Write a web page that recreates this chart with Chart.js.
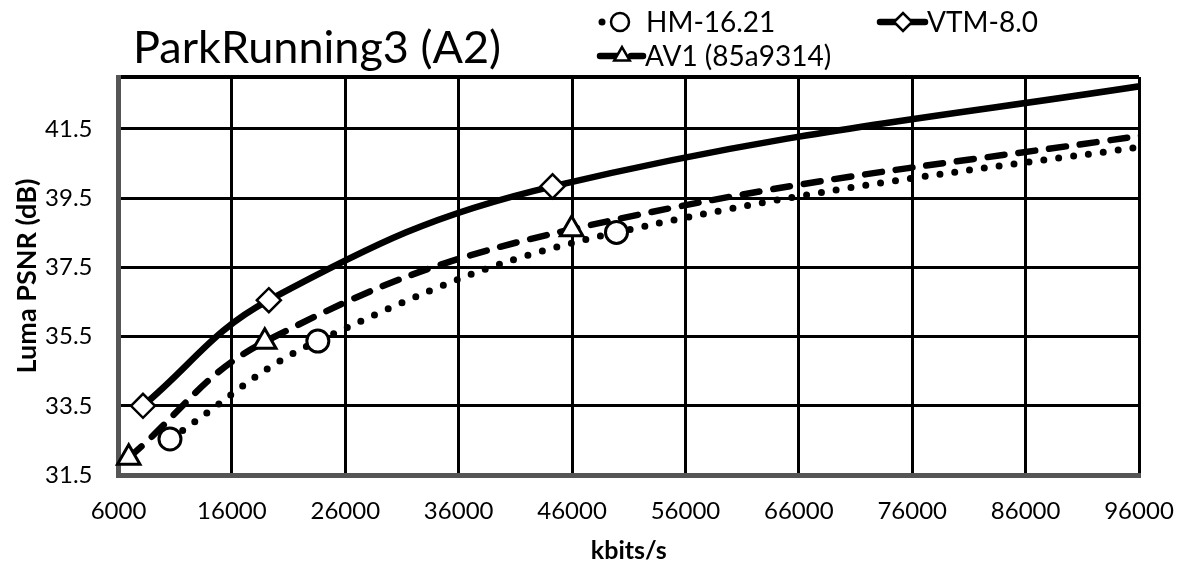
<!DOCTYPE html>
<html>
<head>
<meta charset="utf-8">
<script src="https://cdn.jsdelivr.net/npm/chart.js@4/dist/chart.umd.min.js"></script>
<style>
  html, body { margin: 0; padding: 0; background: #ffffff; }
  canvas { display: block; }
</style>
</head>
<body>
<canvas id="rd" width="1179" height="567"></canvas>
<script>
// Rate–distortion points (bitrate in kbit/s, luma PSNR in dB)
const hmRate  = [10540, 23580, 49920, 110000];
const hmPsnr  = [32.54, 35.37, 38.51, 41.65];
const vtmRate = [8160, 19260, 44280, 106000];
const vtmPsnr = [33.50, 36.55, 39.84, 43.25];
const av1Rate = [6900, 18900, 45960, 106000];
const av1Psnr = [32.00, 35.35, 38.60, 41.80];

// Axis ticks
const xTicks = [6000, 16000, 26000, 36000, 46000, 56000, 66000, 76000, 86000, 96000];
const yTicks = [31.5, 33.5, 35.5, 37.5, 39.5, 41.5];
const yTop = 43;

const seriesNames = ['HM-16.21', 'VTM-8.0', 'AV1 (85a9314)'];
const chartTitle = 'ParkRunning3 (A2)';

const FONT = 'Lato, "Open Sans", sans-serif';

function pts(xs, ys) { return xs.map((x, i) => ({ x: x, y: ys[i] })); }

const clipArea = { left: 20, top: 0, right: 0, bottom: 20 };

const datasets = [
  {
    label: seriesNames[0],
    data: pts(hmRate, hmPsnr),
    borderColor: '#000', borderWidth: 7,
    borderDash: [0, 15], borderCapStyle: 'round',
    pointStyle: 'circle', pointRadius: 11, pointBorderWidth: 3,
    pointBackgroundColor: '#fff', pointBorderColor: '#000',
    tension: 0.4, clip: clipArea, order: 0
  },
  {
    label: seriesNames[1],
    data: pts(vtmRate, vtmPsnr),
    borderColor: '#000', borderWidth: 6.5,
    borderCapStyle: 'round',
    pointStyle: 'rectRot', pointRadius: 12, pointBorderWidth: 2.5,
    pointBackgroundColor: '#fff', pointBorderColor: '#000',
    tension: 0.4, clip: clipArea, order: 1
  },
  {
    label: seriesNames[2],
    data: pts(av1Rate, av1Psnr),
    borderColor: '#000', borderWidth: 6.5,
    borderDash: [17, 14], borderCapStyle: 'round',
    pointStyle: 'triangle', pointRadius: 13, pointBorderWidth: 3,
    pointBackgroundColor: '#fff', pointBorderColor: '#000',
    tension: 0.4, clip: clipArea, order: 2
  }
];

// Title and two-row legend in the top band
const headerPlugin = {
  id: 'header',
  afterDraw(chart) {
    const ctx = chart.ctx;
    ctx.save();
    ctx.fillStyle = '#000';
    ctx.textBaseline = 'alphabetic';
    ctx.textAlign = 'left';
    ctx.font = '45px ' + FONT;
    ctx.fillText(chartTitle, 133, 63);

    const items = [
      { ds: 0, x0: 602, x1: 617, mx: 620, y: 22, tx: 646 },
      { ds: 1, x0: 880, x1: 925, mx: 903, y: 22, tx: 927 },
      { ds: 2, x0: 600, x1: 643, mx: 622, y: 56, tx: 645 }
    ];
    ctx.font = '28px ' + FONT;
    items.forEach(it => {
      const d = chart.data.datasets[it.ds];
      ctx.save();
      ctx.strokeStyle = d.borderColor;
      ctx.lineWidth = d.borderWidth;
      ctx.lineCap = 'round';
      ctx.setLineDash(d.borderDash ? d.borderDash : []);
      ctx.beginPath();
      ctx.moveTo(it.x0, it.y);
      ctx.lineTo(it.x1, it.y);
      ctx.stroke();
      ctx.restore();
      ctx.save();
      ctx.fillStyle = '#fff';
      ctx.strokeStyle = '#000';
      ctx.lineWidth = 2.5;
      Chart.helpers.drawPoint(ctx, { pointStyle: d.pointStyle, radius: 9, rotation: 0, borderWidth: 2.5 }, it.mx, it.y);
      ctx.restore();
      ctx.fillStyle = '#000';
      ctx.textBaseline = 'middle';
      ctx.fillText(d.label, it.tx, it.y + 1);
    });
    ctx.restore();
  }
};

new Chart(document.getElementById('rd'), {
  type: 'line',
  data: { datasets: datasets },
  plugins: [headerPlugin],
  options: {
    responsive: false,
    animation: false,
    devicePixelRatio: 1,
    layout: { padding: { top: 77, right: 40, left: 0, bottom: 0 } },
    plugins: { legend: { display: false }, title: { display: false }, tooltip: { enabled: false } },
    scales: {
      x: {
        type: 'linear',
        min: xTicks[0], max: xTicks[xTicks.length - 1],
        afterBuildTicks: s => { s.ticks = xTicks.map(v => ({ value: v })); },
        afterFit: s => { s.height = 92; s.paddingLeft = 0; s.paddingRight = 0; },
        ticks: {
          color: '#000', font: { family: FONT, size: 24 }, padding: 22,
          maxRotation: 0, autoSkip: false,
          callback: v => String(v)
        },
        grid: { color: '#000', lineWidth: 3, drawTicks: false },
        border: { display: true, color: '#555', width: 5 },
        title: {
          display: true, text: 'kbits/s', color: '#000',
          font: { family: FONT, size: 25, weight: 'bold' }, padding: { top: 4, bottom: 1 }
        }
      },
      y: {
        type: 'linear',
        min: yTicks[0], max: yTop,
        afterBuildTicks: s => { s.ticks = yTicks.concat([yTop]).map(v => ({ value: v })); },
        afterFit: s => { s.width = 118.5; s.paddingTop = 0; s.paddingBottom = 0; },
        ticks: {
          color: '#000', font: { family: FONT, size: 24 }, padding: 26,
          autoSkip: false,
          callback: v => (yTicks.includes(v) ? v.toFixed(1) : '')
        },
        grid: {
          color: '#000', drawTicks: false,
          lineWidth: c => (c.tick && c.tick.value === yTop ? 4 : 3)
        },
        border: { display: true, color: '#555', width: 5 },
        title: {
          display: true, text: 'Luma PSNR (dB)', color: '#000',
          font: { family: FONT, size: 27, weight: 'bold' }, padding: { top: 11, bottom: 0 }
        }
      }
    }
  }
});
</script>
</body>
</html>
